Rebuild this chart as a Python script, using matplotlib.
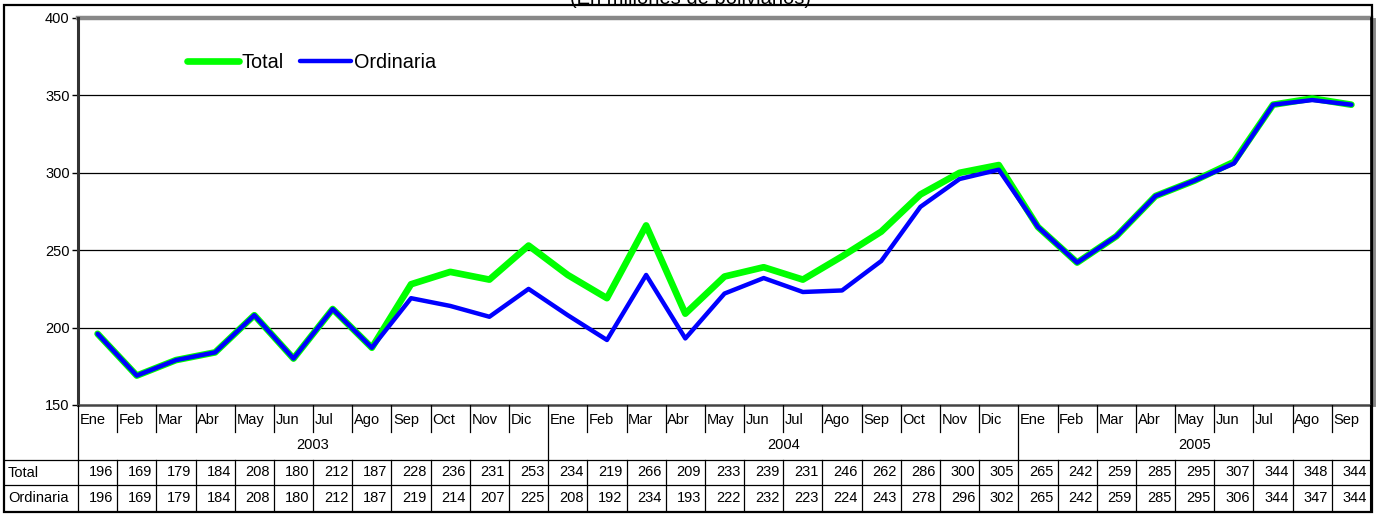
import numpy as np
import matplotlib.pyplot as plt
from matplotlib.lines import Line2D
from matplotlib.patches import Rectangle

plt.rcParams['font.family'] = ['Liberation Sans', 'DejaVu Sans']

# data: recaudacion mensual (En millones de bolivianos)
months = ['Ene', 'Feb', 'Mar', 'Abr', 'May', 'Jun', 'Jul', 'Ago', 'Sep', 'Oct', 'Nov', 'Dic',
          'Ene', 'Feb', 'Mar', 'Abr', 'May', 'Jun', 'Jul', 'Ago', 'Sep', 'Oct', 'Nov', 'Dic',
          'Ene', 'Feb', 'Mar', 'Abr', 'May', 'Jun', 'Jul', 'Ago', 'Sep']
years = ['2003', '2004', '2005']
year_len = [12, 12, 9]
total = [196, 169, 179, 184, 208, 180, 212, 187, 228, 236, 231, 253,
         234, 219, 266, 209, 233, 239, 231, 246, 262, 286, 300, 305,
         265, 242, 259, 285, 295, 307, 344, 348, 344]
ordinaria = [196, 169, 179, 184, 208, 180, 212, 187, 219, 214, 207, 225,
             208, 192, 234, 193, 222, 232, 223, 224, 243, 278, 296, 302,
             265, 242, 259, 285, 295, 306, 344, 347, 344]

W, H = 1379, 516
fig = plt.figure(figsize=(W / 100, H / 100), dpi=100)
fs = 10.5  # table / tick text size

# plot area (pixel box)
L, R, T, B = 78, 1371, 18, 405
ax = fig.add_axes([L / W, 1 - B / H, (R - L) / W, (B - T) / H])
x = np.arange(len(months))
ax.plot(x, total, color='#00ff00', lw=4.8, solid_capstyle='round', solid_joinstyle='round', zorder=3)
ax.plot(x, ordinaria, color='#0000ff', lw=3.2, solid_capstyle='round', solid_joinstyle='round', zorder=4)
ax.set_xlim(-0.5, len(months) - 0.5)
ax.set_ylim(150, 400)
ax.set_yticks([150, 200, 250, 300, 350, 400])
ax.tick_params(axis='y', labelsize=fs, length=4, width=1, pad=2)
ax.set_xticks([])
for yv in [200, 250, 300, 350]:
    ax.axhline(yv, color='black', lw=0.9, zorder=1)
for s in ['top', 'right', 'bottom', 'left']:
    ax.spines[s].set_visible(False)
# shadowed frame of the plot area
ax.plot([0, 1], [1, 1], transform=ax.transAxes, color='#888888', lw=3.2, clip_on=False, zorder=5)
ax.plot([0, 0], [0, 1], transform=ax.transAxes, color='#333333', lw=2.2, clip_on=False, zorder=5)
ax.plot([1, 1], [0, 1], transform=ax.transAxes, color='black', lw=1.2, clip_on=False, zorder=5)
ax.plot([1.0022, 1.0022], [0, 0.995], transform=ax.transAxes, color='#888888', lw=2.8, clip_on=False, zorder=4)
ax.plot([0, 1], [0, 0], transform=ax.transAxes, color='#444444', lw=1.8, clip_on=False, zorder=5)

handles = [Line2D([], [], color='#00ff00', lw=4.8, solid_capstyle='round'),
           Line2D([], [], color='#0000ff', lw=3.2, solid_capstyle='round')]
ax.legend(handles, ['Total', 'Ordinaria'], ncol=2, frameon=False, fontsize=14.3,
          handlelength=2.6, handletextpad=0.15, columnspacing=0.8,
          loc='center left', bbox_to_anchor=((187 - L) / (R - L), 1 - (62 - T) / (B - T)),
          borderaxespad=0, borderpad=0)

# data table under the chart
n = len(months)
cw = (R - L) / n
tx = fig.add_axes([4 / W, 1 - 512 / H, (1372 - 4) / W, (512 - B) / H])
tx.set_xlim(-0.5 - (L - 4) / cw, n - 0.5 + (1372 - R) / cw)
tx.set_ylim(512, B)
tx.axis('off')
lk = dict(color='black', lw=0.9)
left_edge = -0.5 - (L - 4) / cw
# horizontal lines
tx.plot([left_edge, n - 0.5], [460, 460], **lk)
tx.plot([left_edge, n - 0.5], [485, 485], **lk)
# month separators and labels
starts = np.cumsum([0] + year_len[:-1])
for i, m in enumerate(months):
    xl = i - 0.5
    if i in starts:
        tx.plot([xl, xl], [B, 460], **lk)
    else:
        tx.plot([xl, xl], [B, 432], **lk)
    tx.text(xl + 0.04, 420, m, fontsize=fs, ha='left', va='center')
    tx.plot([xl, xl], [460, 512], **lk)
    tx.text(i + 0.4, 472.5, str(total[i]), fontsize=fs, ha='right', va='center')
    tx.text(i + 0.4, 498, str(ordinaria[i]), fontsize=fs, ha='right', va='center')
tx.plot([n - 0.5, n - 0.5], [B, 512], color='black', lw=1.5)
for yr, s, ln in zip(years, starts, year_len):
    tx.text(s - 0.5 + ln / 2, 445, yr, fontsize=fs, ha='center', va='center')
tx.text(left_edge + 0.1, 473, 'Total', fontsize=fs, ha='left', va='center')
tx.text(left_edge + 0.1, 498.5, 'Ordinaria', fontsize=fs, ha='left', va='center')

# outer frame and cut-off subtitle (cut at the top edge as in the source)
fig.patches.append(Rectangle((4 / W, 1 - 512 / H), (1372 - 4) / W, (512 - 5) / H,
                             transform=fig.transFigure, fill=False, ec='black', lw=1.6))
fig.text(690 / W, 1 - 4 / H, '(En millones de bolivianos)', fontsize=14.5, ha='center', va='baseline')

fig.savefig('out.png', dpi=100)
